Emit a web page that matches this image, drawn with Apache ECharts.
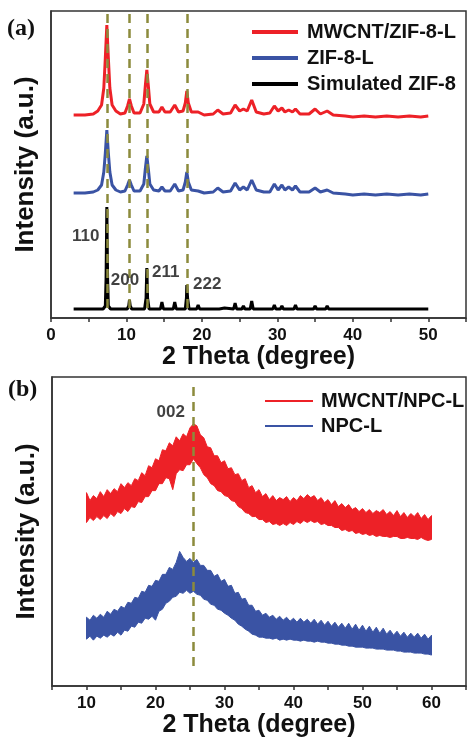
<!DOCTYPE html>
<html>
<head>
<meta charset="utf-8">
<script src="https://cdn.jsdelivr.net/npm/echarts@6.0.0/dist/echarts.min.js"></script>
<style>
html,body{margin:0;padding:0;background:#fff}
#main{width:469px;height:739px}
</style>
</head>
<body>
<div id="main"></div>
<script>
// (a) XRD 曲线 [2theta, 强度(带偏移)]
var zifRed = [[3,203],[4.5,203],[5.6,204],[6.2,207],[6.7,213],[7.0,230],[7.2,260],[7.4,293],[7.6,260],[7.8,230],[8.1,213],[8.6,207],[9.2,204],[9.8,205],[10.15,212],[10.4,219],[10.65,212],[11.0,205],[11.8,205],[12.3,214],[12.5,232],[12.7,248],[12.9,232],[13.1,214],[13.6,206],[14.3,206],[14.7,211],[15.1,206],[15.8,206],[16.4,213],[16.9,206],[17.5,207],[17.8,215],[18.0,227],[18.2,215],[18.6,206],[19.5,206],[20.3,203],[21.5,204],[22.1,208],[22.8,204],[23.8,205],[24.4,213],[25.0,207],[25.5,209],[26.0,207],[26.6,218],[27.2,206],[28.2,204],[29.0,205],[29.6,212],[30.1,207],[30.6,210],[31.0,206],[31.5,208],[32.0,206],[32.4,209],[33.0,204],[34.2,204],[35.0,209],[35.7,204],[36.6,207],[37.4,203],[39,202],[40,201],[41.5,202],[43,201],[44.5,202],[46,201],[47.5,202],[49,201],[50,202]];
var zifBlue = [[3,125],[4.5,125],[5.6,126],[6.2,128],[6.7,133],[7.0,146],[7.2,165],[7.4,188],[7.6,165],[7.8,146],[8.1,133],[8.6,128],[9.2,126],[9.8,127],[10.15,133],[10.4,138],[10.65,133],[11.0,127],[11.8,127],[12.3,134],[12.5,149],[12.7,162],[12.9,149],[13.1,134],[13.6,128],[14.3,127],[14.7,131],[15.1,127],[15.8,127],[16.4,134],[16.9,127],[17.5,128],[17.8,136],[18.0,146],[18.2,136],[18.6,128],[19.5,127],[20.3,125],[21.5,126],[22.1,130],[22.8,126],[23.8,127],[24.4,135],[25.0,128],[25.5,131],[26.0,128],[26.6,138],[27.2,128],[28.2,126],[29.0,126],[29.6,134],[30.1,128],[30.6,133],[31.0,128],[31.5,131],[32.0,128],[32.4,132],[33.0,126],[34.2,126],[35.0,130],[35.7,126],[36.6,128],[37.4,125],[39,124],[40,123],[41.5,124],[43,123],[44.5,124],[46,123],[47.5,124],[49,123],[50,124]];
var zifSim = [[3,9],[6.9,9],[7.2,12],[7.3,40],[7.4,111],[7.5,40],[7.6,12],[7.9,9],[10.1,9],[10.3,12],[10.4,18],[10.5,12],[10.7,9],[12.4,9],[12.6,20],[12.7,50],[12.8,20],[13.0,9],[14.5,9],[14.7,16],[14.9,9],[16.2,9],[16.4,16],[16.6,9],[17.8,9],[17.95,20],[18.0,33],[18.1,20],[18.3,9],[19.3,9],[19.5,13],[19.7,9],[21.9,9],[22.1,11],[22.3,9],[23.0,10],[24.2,9],[24.4,15],[24.6,9],[25.3,9],[25.5,12],[25.7,9],[26.4,9],[26.6,17],[26.8,9],[29.4,9],[29.6,13],[29.8,9],[30.4,9],[30.6,12],[30.8,9],[31.3,9],[31.5,11],[31.7,9],[32.2,9],[32.4,13],[32.6,9],[34.8,9],[35.0,12],[35.2,9],[36.4,9],[36.6,12],[36.8,9],[37.4,9],[37.6,11],[37.8,9],[39.1,9],[39.3,10],[39.5,9],[41.4,9],[41.6,11],[41.8,9],[43.0,9],[43.2,10],[43.4,9],[44.1,9],[44.3,10],[44.5,9],[46.4,9],[46.6,11],[46.8,9],[47.6,9],[47.8,10],[48,9],[50,9]];
var peakLines = [7.4, 10.4, 12.7, 18.0];
var peakLabels = [[4.6,82,'110'],[9.8,38,'200'],[15.2,46,'211'],[20.7,34,'222']];

// (b) 噪声带 上/下包络, 2theta 10..60 每 0.5 度
var npcX = [];
for (var k = 0; k <= 100; k++) npcX.push(10 + k * 0.5);
var mwUpper = [194,186,191,188,195,190,197,193,198,195,203,199,204,201,208,206,214,211,221,219,228,226,237,236,244,241,250,246,253,250,259,263,261,252,249,240,239,231,231,224,226,218,219,212,213,206,208,199,201,194,197,190,193,187,191,186,189,187,190,185,189,186,191,188,192,189,191,186,189,184,187,182,186,180,183,179,182,177,179,175,178,174,177,173,176,174,177,172,175,171,176,170,174,169,173,170,174,168,172,167,171];
var mwLower = [164,169,166,170,167,171,168,173,170,175,173,178,175,180,179,185,184,190,190,196,196,203,203,209,208,197,213,217,216,222,222,228,223,219,212,209,203,201,196,195,191,190,186,185,180,178,174,173,170,170,167,167,164,165,162,163,161,163,161,164,162,165,163,166,164,166,164,165,162,163,161,161,159,159,156,157,155,156,153,154,152,153,151,152,150,151,150,150,149,150,150,148,148,149,148,148,147,149,147,146,147];
var npcUpper = [69,66,71,68,72,69,75,72,77,75,80,78,84,83,89,88,95,94,101,100,106,105,112,112,119,117,124,135,129,125,128,124,127,121,121,116,116,110,112,105,107,100,101,93,94,87,88,81,81,75,76,71,73,69,71,67,70,66,69,65,68,64,68,64,67,63,67,62,66,61,65,60,64,59,63,58,63,57,62,56,61,55,60,54,59,53,58,52,56,51,55,50,54,49,53,49,53,48,52,47,51];
var npcLower = [47,50,46,50,48,51,49,52,50,54,51,56,55,60,59,64,63,68,67,70,66,75,77,83,85,89,90,94,93,96,93,95,92,91,87,86,82,81,77,76,73,71,68,66,62,60,57,55,52,51,49,49,48,48,47,48,46,47,46,47,46,46,45,46,45,45,44,45,44,44,43,43,42,42,41,41,40,40,39,39,39,38,38,38,37,37,37,36,36,36,35,35,34,34,34,33,33,33,32,32,31];
var peak002 = 25.5;
var label002 = [22.2, 275, '002'];

var RED = '#ed2127', BLUE = '#3a53a4', OLIVE = '#8c8b3c';
var FONT = 'Arial, "Liberation Sans", sans-serif';
var SERIF = '"Liberation Serif", "DejaVu Serif", serif';

function xAxisCfg(gi, min, max) {
    return {
        type: 'value', gridIndex: gi, min: min, max: max, interval: 5,
        name: '2 Theta (degree)', nameLocation: 'middle', nameGap: 27,
        nameTextStyle: {fontFamily: FONT, fontWeight: 'bold', fontSize: 25, color: '#111'},
        axisLine: {show: true, lineStyle: {color: '#333', width: 1.5}},
        axisTick: {show: true, inside: false, length: 4, lineStyle: {color: '#333', width: 1.5}},
        axisLabel: {margin: 9, fontFamily: FONT, fontWeight: 'bold', fontSize: 17, color: '#111',
            formatter: function (v) { return v % 10 === 0 ? v : ''; }},
        splitLine: {show: false}
    };
}
function yAxisCfg(gi, max) {
    return {
        type: 'value', gridIndex: gi, min: 0, max: max,
        name: 'Intensity (a.u.)', nameLocation: 'middle', nameGap: 12, nameRotate: 90,
        nameTextStyle: {fontFamily: FONT, fontWeight: 'bold', fontSize: 26, color: '#111'},
        axisLine: {show: true, lineStyle: {color: '#333', width: 1.5}},
        axisTick: {show: false}, axisLabel: {show: false}, splitLine: {show: false}
    };
}
function labelSeries(xi, items) {
    return {
        type: 'scatter', xAxisIndex: xi, yAxisIndex: xi, symbolSize: 1, silent: true,
        itemStyle: {color: 'transparent'},
        data: items.map(function (d) { return {value: [d[0], d[1]], name: d[2]}; }),
        label: {show: true, position: 'inside', formatter: '{b}', color: '#111',
            fontFamily: FONT, fontWeight: 'bold', fontSize: 17},
        z: 6
    };
}
function dashLines(xs, y0, y1) {
    return {
        silent: true, symbol: ['none', 'none'], label: {show: false},
        lineStyle: {color: OLIVE, width: 2.5, type: [9, 6]},
        data: xs.map(function (x) { return [{coord: [x, y0]}, {coord: [x, y1]}]; })
    };
}
// 噪声带: 上包络 + 反向下包络 组成一个多边形
function bandSeries(name, color, up, low, extra) {
    var s = {
        name: name, type: 'custom', xAxisIndex: 1, yAxisIndex: 1, silent: true,
        itemStyle: {color: color},
        data: npcX.map(function (x, i) { return [x, up[i], low[i]]; }),
        encode: {x: 0, y: [1, 2]},
        renderItem: function (params, api) {
            if (params.dataIndex !== 0) return null;
            var pts = [], i;
            for (i = 0; i < npcX.length; i++) pts.push(api.coord([npcX[i], up[i]]));
            for (i = npcX.length - 1; i >= 0; i--) pts.push(api.coord([npcX[i], low[i]]));
            return {type: 'polygon', shape: {points: pts},
                style: {fill: color, stroke: color, lineWidth: 1, lineJoin: 'miter'}};
        }
    };
    if (extra) s.markLine = extra;
    return s;
}

var myChart = echarts.init(document.getElementById('main'));
var option = {
    animation: false,
    title: [
        {text: '(a)', left: 7, top: 17, padding: 0,
            textStyle: {fontFamily: SERIF, fontWeight: 'bold', fontSize: 24, color: '#111'}},
        {text: '(b)', left: 8, top: 378, padding: 0,
            textStyle: {fontFamily: SERIF, fontWeight: 'bold', fontSize: 24, color: '#111'}}
    ],
    legend: [
        {orient: 'vertical', left: 247, top: 17, itemWidth: 46, itemHeight: 4, itemGap: 6, icon: 'rect',
            data: ['MWCNT/ZIF-8-L', 'ZIF-8-L', 'Simulated ZIF-8'],
            textStyle: {fontFamily: FONT, fontWeight: 'bold', fontSize: 20, color: '#111', padding: [0, 0, 0, 4]}},
        {orient: 'vertical', left: 260, top: 386, itemWidth: 48, itemHeight: 2, itemGap: 5, icon: 'rect',
            data: ['MWCNT/NPC-L', 'NPC-L'],
            textStyle: {fontFamily: FONT, fontWeight: 'bold', fontSize: 20, color: '#111', padding: [0, 0, 0, 3]}}
    ],
    grid: [
        {left: 51, top: 11, width: 417, height: 307, show: true, borderColor: '#333', borderWidth: 1.5},
        {left: 52, top: 377, width: 416, height: 310, show: true, borderColor: '#333', borderWidth: 1.5}
    ],
    xAxis: [xAxisCfg(0, 0, 55), xAxisCfg(1, 5, 65)],
    yAxis: [yAxisCfg(0, 307), yAxisCfg(1, 310)],
    series: [
        {name: 'MWCNT/ZIF-8-L', type: 'line', xAxisIndex: 0, yAxisIndex: 0, data: zifRed, showSymbol: false,
            lineStyle: {color: RED, width: 3}, itemStyle: {color: RED}},
        {name: 'ZIF-8-L', type: 'line', xAxisIndex: 0, yAxisIndex: 0, data: zifBlue, showSymbol: false,
            lineStyle: {color: BLUE, width: 3}, itemStyle: {color: BLUE}},
        {name: 'Simulated ZIF-8', type: 'line', xAxisIndex: 0, yAxisIndex: 0, data: zifSim, showSymbol: false,
            lineStyle: {color: '#000', width: 3}, itemStyle: {color: '#000'},
            markLine: dashLines(peakLines, 10, 304)},
        labelSeries(0, peakLabels),

        bandSeries('MWCNT/NPC-L', RED, mwUpper, mwLower, dashLines([peak002], 20, 305)),
        bandSeries('NPC-L', BLUE, npcUpper, npcLower),
        labelSeries(1, [label002])
    ]
};
myChart.setOption(option);
</script>
</body>
</html>
